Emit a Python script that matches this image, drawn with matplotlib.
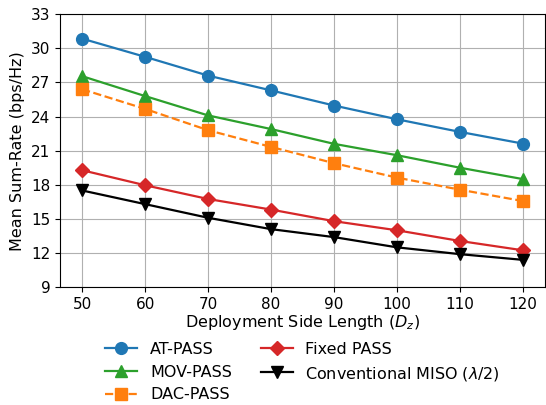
import matplotlib.pyplot as plt

# 数据
side_len = [50, 60, 70, 80, 90, 100, 110, 120]
at_pass = [30.85, 29.25, 27.6, 26.3, 24.97, 23.76, 22.65, 21.62]
mov_pass = [27.55, 25.8, 24.1, 22.9, 21.6, 20.6, 19.5, 18.5]
dac_pass = [26.4, 24.67, 22.8, 21.33, 19.9, 18.63, 17.57, 16.57]
fixed_pass = [19.28, 17.96, 16.75, 15.82, 14.8, 14.0, 13.06, 12.24]
conv_miso = [17.5, 16.3, 15.1, 14.1, 13.4, 12.5, 11.9, 11.4]
yticks = [9, 12, 15, 18, 21, 24, 27, 30, 33]

if __name__ == '__main__':
    plt.rcParams['font.size'] = 11.5
    fig, ax = plt.subplots(figsize=(5.46, 4.05), dpi=100)
    ax.plot(side_len, at_pass, '-o', color='tab:blue', lw=1.6, ms=8.5, label='AT-PASS')
    ax.plot(side_len, mov_pass, '-^', color='tab:green', lw=1.6, ms=8.5, label='MOV-PASS')
    ax.plot(side_len, dac_pass, '--s', color='tab:orange', lw=1.6, ms=8.5, label='DAC-PASS')
    ax.plot(side_len, fixed_pass, '-D', color='tab:red', lw=1.6, ms=7.5, label='Fixed PASS')
    ax.plot(side_len, conv_miso, '-v', color='black', lw=1.6, ms=8.5,
            label='Conventional MISO ($\\lambda$/2)')
    ax.set_ylim(9, 33)
    ax.set_yticks(yticks)
    ax.set_xticks(side_len)
    ax.tick_params(labelsize=11)
    ax.set_xlabel('Deployment Side Length ($D_z$)', labelpad=1)
    ax.set_ylabel('Mean Sum-Rate (bps/Hz)')
    ax.grid(True)
    ax.legend(loc='upper center', bbox_to_anchor=(0.5, -0.148), ncol=2,
              frameon=False, handlelength=2.0, columnspacing=1.8,
              labelspacing=0.48)
    fig.subplots_adjust(left=0.11, right=0.998, top=0.965, bottom=0.291)
    plt.savefig('out.png')
